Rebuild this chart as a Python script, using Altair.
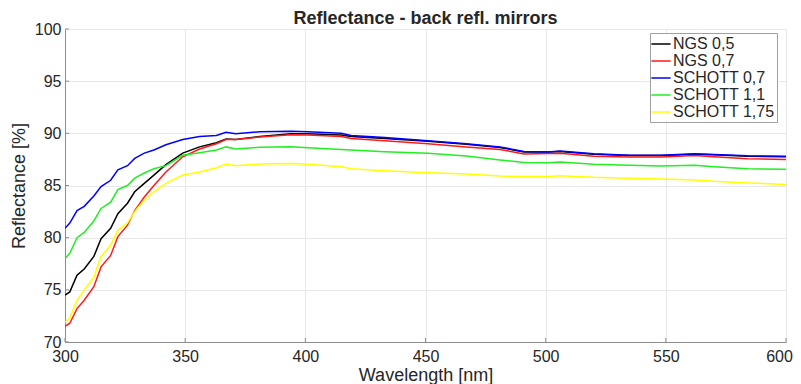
import altair as alt
import pandas as pd

wavelength = [300, 302, 305, 308, 312, 315, 319, 322, 326, 329, 333, 337, 342, 349, 356, 363, 367, 371,
              381, 394, 401, 415, 419, 433, 451, 467, 481, 491, 501, 506, 520, 535, 548, 562, 570, 584, 600]

ngs_05 = [74.5, 74.8, 76.4, 77.0, 78.2, 79.9, 80.9, 82.3, 83.3, 84.4, 85.2, 86.0, 87.0, 88.1, 88.7, 89.1, 89.45, 89.4,
          89.7, 89.95, 89.95, 89.85, 89.7, 89.5, 89.25, 88.95, 88.65, 88.22, 88.2, 88.25, 88.0, 87.88, 87.88, 88.0, 87.95, 87.8, 87.75]
ngs_07 = [71.5, 71.8, 73.2, 74.0, 75.3, 77.2, 78.3, 80.1, 81.2, 82.6, 83.9, 85.0, 86.3, 87.75, 88.5, 89.0, 89.4, 89.4,
          89.65, 89.87, 89.84, 89.7, 89.5, 89.3, 89.0, 88.7, 88.46, 88.03, 88.06, 88.1, 87.8, 87.72, 87.72, 87.88, 87.75, 87.56, 87.5]
schott_07 = [80.9, 81.4, 82.6, 83.0, 84.0, 84.9, 85.5, 86.5, 86.9, 87.6, 88.1, 88.4, 88.9, 89.4, 89.7, 89.8, 90.1, 89.95,
             90.15, 90.2, 90.15, 90.0, 89.8, 89.6, 89.3, 89.0, 88.7, 88.25, 88.2, 88.3, 88.05, 87.9, 87.9, 88.05, 87.97, 87.85, 87.8]
schott_11 = [78.0, 78.5, 80.0, 80.5, 81.6, 82.8, 83.4, 84.6, 85.0, 85.7, 86.2, 86.6, 86.9, 87.9, 88.15, 88.4, 88.7, 88.5,
             88.66, 88.72, 88.62, 88.46, 88.4, 88.24, 88.08, 87.82, 87.45, 87.2, 87.19, 87.25, 87.03, 86.94, 86.88, 86.94, 86.8, 86.6, 86.56]
schott_175 = [71.9, 72.3, 74.0, 75.0, 76.2, 78.2, 79.3, 80.7, 81.4, 82.5, 83.6, 84.4, 85.2, 86.0, 86.3, 86.7, 87.05, 86.9,
              87.06, 87.12, 87.03, 86.8, 86.6, 86.42, 86.23, 86.1, 85.9, 85.87, 85.87, 85.94, 85.78, 85.69, 85.62, 85.53, 85.4, 85.25, 85.1]

series_names = ["NGS 0,5", "NGS 0,7", "SCHOTT 0,7", "SCHOTT 1,1", "SCHOTT 1,75"]
series_values = [ngs_05, ngs_07, schott_07, schott_11, schott_175]
series_colors = ["#000000", "#ff1a1a", "#0000ff", "#22ee22", "#ffff00"]

x_ticks = [300, 350, 400, 450, 500, 550, 600]
y_ticks = [70, 75, 80, 85, 90, 95, 100]

rows = []
for i, (name, vals) in enumerate(zip(series_names, series_values)):
    for w, v in zip(wavelength, vals):
        rows.append({"Wavelength": w, "Reflectance": v, "Series": name, "order": i})
df = pd.DataFrame(rows)

xt_df = pd.DataFrame({"t": x_ticks})
yt_df = pd.DataFrame({"t": y_ticks})

FONT = "Liberation Sans"
TXT = "#262626"
AX = "#8c8c8c"

x_scale = alt.Scale(domain=[300, 600], nice=False, zero=False)
y_scale = alt.Scale(domain=[70, 100], nice=False, zero=False)

lines = alt.Chart(df).mark_line(strokeWidth=1.5, clip=True).encode(
    x=alt.X("Wavelength:Q", scale=x_scale,
            axis=alt.Axis(title="Wavelength [nm]", values=x_ticks, format="d",
                          labelFontSize=16, titleFontSize=18, titleFontWeight="normal",
                          labelColor=TXT, titleColor=TXT, titlePadding=2, labelPadding=6,
                          labelFlush=False,
                          labelOffset={"condition": {"test": "datum.value == 600", "value": -7}, "value": 0},
                          tickSize=0, domainColor=AX, gridColor="#e8e8e8")),
    y=alt.Y("Reflectance:Q", scale=y_scale,
            axis=alt.Axis(title="Reflectance [%]", values=y_ticks, format="d",
                          labelFontSize=16, titleFontSize=18, titleFontWeight="normal",
                          labelColor=TXT, titleColor=TXT, titlePadding=6, labelPadding=4,
                          labelFlush=False, tickSize=0, domainColor=AX, gridColor="#e8e8e8")),
    color=alt.Color("Series:N",
                    scale=alt.Scale(domain=series_names, range=series_colors),
                    legend=alt.Legend(title=None, orient="none", legendX=585, legendY=4,
                                      symbolType="M-1.2,0H1.2", symbolSize=256, symbolStrokeWidth=1.5,
                                      labelFontSize=16, labelColor=TXT, labelOffset=3,
                                      rowPadding=0, padding=2, fillColor="white",
                                      strokeColor="#a0a0a0")),
    detail="Series:N",
    order="order:Q",
)

xticks = alt.Chart(xt_df).mark_rule(color=AX, strokeWidth=1).encode(
    x=alt.X("t:Q", scale=x_scale), y=alt.value(313), y2=alt.value(309))
yticks = alt.Chart(yt_df).mark_rule(color=AX, strokeWidth=1).encode(
    y=alt.Y("t:Q", scale=y_scale), x=alt.value(0), x2=alt.value(4))

chart = alt.layer(xticks, yticks, lines).properties(
    width=721,
    height=313,
    title=alt.TitleParams("Reflectance - back refl. mirrors", fontSize=18, fontWeight="bold",
                          color=TXT, anchor="middle", offset=-7, frame="group", font=FONT),
    autosize=alt.AutoSizeParams(type="none"),
    padding={"left": 57, "top": 21, "right": 7, "bottom": 42},
).configure(font=FONT).configure_view(stroke=None)

chart.save("out.html", embed_options={"renderer": "svg", "actions": False})
